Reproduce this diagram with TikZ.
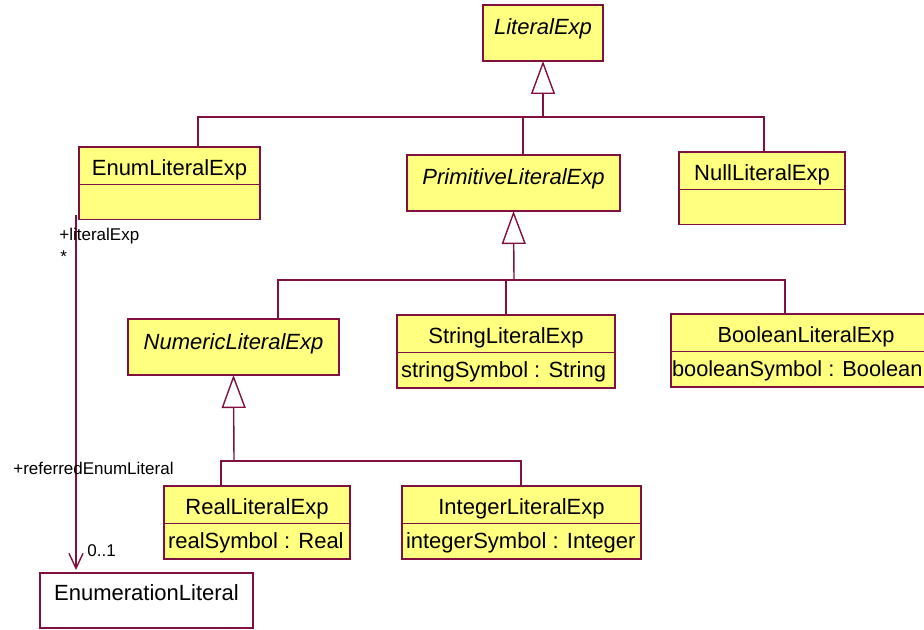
\documentclass[tikz,border=0pt]{standalone}
\usepackage{fontspec}
\setmainfont{Liberation Sans}
\usepackage{tikz}
\usetikzlibrary{arrows.meta, shapes.multipart, positioning}
\definecolor{umlline}{RGB}{128,16,64}
\definecolor{umlfill}{RGB}{255,255,128}
\tikzstyle{link} = [draw=umlline, line width=0.7pt]
\tikzstyle{gen} = [link, -{Triangle[open, length=16.5pt, width=12pt, fill=white]}]
\tikzstyle{assoc} = [link, -{Straight Barb[length=7.5pt, width=7pt]}]
\tikzstyle{cls} = [rectangle split, rectangle split parts=2, draw=umlline, fill=umlfill, line width=0.7pt, anchor=north west, inner xsep=2pt, inner ysep=0pt, outer sep=0pt, rectangle split part align={center, left}, font=\fontsize{11}{13}\selectfont]
\tikzstyle{abscls} = [rectangle, draw=umlline, fill=umlfill, line width=0.7pt, anchor=north west, inner xsep=2pt, inner ysep=0pt, outer sep=0pt, text height=15pt, text depth=13pt, font=\fontsize{11}{13}\selectfont\itshape]
\tikzstyle{plaincls} = [abscls, fill=white, text height=13.75pt, text depth=13.75pt, font=\fontsize{11}{13}\selectfont]
\tikzstyle{role} = [anchor=west, inner sep=0pt, font=\fontsize{8.5}{10}\selectfont]
\newcommand*\clsname[1]{\rule[-4pt]{0pt}{18pt}#1}
\newcommand*\clsattr[1]{\rule[-5pt]{0pt}{17pt}#1}

\begin{document}
\begin{tikzpicture}[x=0.5pt, y=-0.5pt]
  \useasboundingbox (0,0) rectangle (924,630);
  \clip (0,0) rectangle (924,630);

  % Classes
  \node (lit) [abscls, minimum width=60pt] at (483,5) {LiteralExp};
  \node (enum) [cls, minimum width=90.5pt] at (79,147) {\clsname{EnumLiteralExp} \nodepart{two} \clsattr{}};
  \node (prim) [abscls, minimum width=106.5pt] at (407,155) {PrimitiveLiteralExp};
  \node (null) [cls, minimum width=83pt] at (679,152) {\clsname{NullLiteralExp} \nodepart{two} \clsattr{}};
  \node (num) [abscls, minimum width=105.5pt] at (128,319) {NumericLiteralExp};
  \node (str) [cls, minimum width=109pt] at (397,315) {\clsname{StringLiteralExp} \nodepart{two} \clsattr{stringSymbol : String}};
  \node (bool) [cls, minimum width=135pt, inner xsep=0.5pt, font=\fontsize{10.9}{13}\selectfont] at (671,314) {\clsname{BooleanLiteralExp} \nodepart{two} \clsattr{booleanSymbol : Boolean}};
  \node (real) [cls, minimum width=93pt] at (164,486) {\clsname{RealLiteralExp} \nodepart{two} \clsattr{realSymbol : Real}};
  \node (int) [cls, minimum width=119.5pt] at (402,486) {\clsname{IntegerLiteralExp} \nodepart{two} \clsattr{integerSymbol : Integer}};
  \node (enumlit) [plaincls, minimum width=106.5pt] at (40,573) {EnumerationLiteral};

  % Generalisation trees
  \coordinate (litjoin) at (543,117);
  \coordinate (litbusL) at (198,117);
  \coordinate (litbusR) at (764,117);
  \coordinate (primdrop) at (523,117);
  \draw[gen] (litjoin) -- (lit.south);
  \draw[link] (enum.north -| litbusL) -- (litbusL) -- (litbusR) -- (null.north -| litbusR);
  \draw[link] (primdrop) -- (prim.north -| primdrop);

  \coordinate (primjoin) at (514,280);
  \coordinate (primbusL) at (278,280);
  \coordinate (primbusR) at (785,280);
  \coordinate (strdrop) at (506,280);
  \draw[gen] (primjoin) -- (prim.south);
  \draw[link] (num.north -| primbusL) -- (primbusL) -- (primbusR) -- (bool.north -| primbusR);
  \draw[link] (strdrop) -- (str.north -| strdrop);

  \coordinate (numjoin) at (234,461);
  \coordinate (numbusL) at (221,461);
  \coordinate (numbusR) at (521,461);
  \draw[gen] (numjoin) -- (num.south);
  \draw[link] (real.north -| numbusL) -- (numbusL) -- (numbusR) -- (int.north -| numbusR);

  % Association
  \coordinate (assocstart) at (76,215);
  \draw[assoc] (assocstart) -- ([yshift=1.5pt]enumlit.north -| assocstart);
  \node (srcrole) [role] at (59,236) {+literalExp};
  \node (srcmult) [role] at (60,257) {*};
  \node (tgtrole) [role] at (13,468) {+referredEnumLiteral};
  \node (tgtmult) [role] at (87,551) {0..1};

\end{tikzpicture}
\end{document}
